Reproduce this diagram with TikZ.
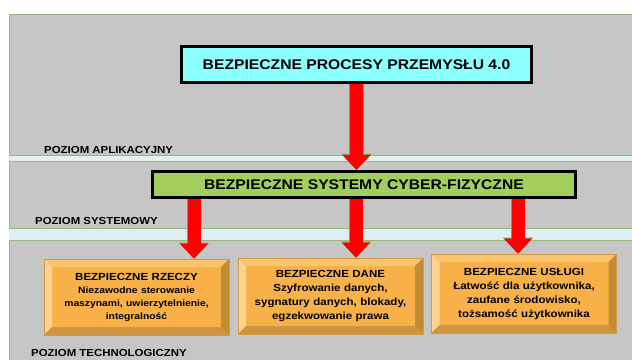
\documentclass[tikz,border=0pt]{standalone}
\usepackage{fontspec}
\setmainfont{Liberation Sans}[FakeStretch=1.12]
\usetikzlibrary{arrows.meta,positioning,calc}

\definecolor{slidegray}{HTML}{C6C6C6}
\definecolor{framegreen}{HTML}{9BB47F}
\definecolor{bandblue}{HTML}{DDEEF4}
\definecolor{bandpale}{HTML}{E4F1EC}
\definecolor{procescyan}{HTML}{8CFFFF}
\definecolor{cpsgreen}{HTML}{A2CF5C}
\definecolor{facegold}{HTML}{F8B148}
\definecolor{bevelleft}{HTML}{FCD391}
\definecolor{beveltop}{HTML}{FAC36E}
\definecolor{bevelright}{HTML}{C48B35}
\definecolor{bevelbottom}{HTML}{CE9540}
\definecolor{beveledge}{HTML}{D39A45}
\definecolor{arrowedge}{HTML}{7DA35A}

\begin{document}
\begin{tikzpicture}[
    x=1pt, y=-1pt,
    every node/.style={font=\bfseries},
    topbox/.style={draw=black, line width=3pt, fill=procescyan, minimum width=350pt, minimum height=36pt, font=\bfseries\fontsize{14}{16}\selectfont},
    cpsbox/.style={draw=black, line width=3pt, fill=cpsgreen, minimum width=423pt, minimum height=26pt, font=\bfseries\fontsize{14}{16}\selectfont},
    thingbox/.style={draw=beveledge, line width=0.6pt, fill=facegold, minimum width=185pt, minimum height=76pt,
        inner sep=0pt, text width=178pt, align=center, font=\bfseries\fontsize{10.3}{14}\selectfont,
        path picture={
            \coordinate (nw) at (path picture bounding box.north west);
            \coordinate (ne) at (path picture bounding box.north east);
            \coordinate (sw) at (path picture bounding box.south west);
            \coordinate (se) at (path picture bounding box.south east);
            \fill[beveltop] (nw) -- (ne) -- ([shift={(-8pt,-8pt)}]ne) -- ([shift={(8pt,-8pt)}]nw) -- cycle;
            \fill[bevelleft] (nw) -- (sw) -- ([shift={(8pt,8pt)}]sw) -- ([shift={(8pt,-8pt)}]nw) -- cycle;
            \fill[bevelright] (ne) -- (se) -- ([shift={(-8pt,8pt)}]se) -- ([shift={(-8pt,-8pt)}]ne) -- cycle;
            \fill[bevelbottom] (sw) -- (se) -- ([shift={(-8pt,8pt)}]se) -- ([shift={(8pt,8pt)}]sw) -- cycle;
        }},
    levellabel/.style={anchor=west, inner sep=0pt, font=\bfseries\fontsize{10.2}{12}\selectfont},
    bigarrow/.style={red, line width=13pt, -{Triangle[width=28pt 0 0, length=15pt 0 0, line width=0pt 0 0]},
        preaction={draw=arrowedge, line width=14.4pt, -{Triangle[width=30.5pt 0 0, length=16.2pt 0 0, line width=0pt 0 0]}}}
]
\useasboundingbox (0,0) rectangle (632,360);

% Slide background
\fill[white] (0,0) rectangle (632,360);
\fill[slidegray] (9,14) rectangle (632,360);
\draw[framegreen, line width=0.8pt] (9,360) -- (9,14) -- (632,14);

% Level separators
\fill[bandpale] (9,155) rectangle (632,161);
\draw[framegreen, line width=0.8pt] (9,155) -- (632,155) (9,161) -- (632,161);
\fill[bandblue] (9,228) rectangle (632,240);
\draw[framegreen, line width=0.8pt] (9,228) -- (632,228) (9,240) -- (632,240);

% Level labels
\node[levellabel] (aplik) at (44,150) {POZIOM APLIKACYJNY};
\node[levellabel] (system) at (35,221) {POZIOM SYSTEMOWY};
\node[levellabel] (techno) at (31,353) {POZIOM TECHNOLOGICZNY};

% Main boxes
\node[topbox] (procesy) at (356.5,64.5) {BEZPIECZNE PROCESY PRZEMYSŁU 4.0};
\node[cpsbox] (cps) at (364,184.5) {BEZPIECZNE SYSTEMY CYBER-FIZYCZNE};

% Technology boxes
\node[thingbox] (rzeczy) at (136.5,297) {BEZPIECZNE RZECZY\\
    {\fontsize{9.2}{13}\selectfont Niezawodne sterowanie\\maszynami, uwierzytelnienie,\\integralność\par}};
\node[thingbox] (dane) at (330.5,296) {BEZPIECZNE DANE\\
    Szyfrowanie danych,\\sygnatury danych, blokady,\\egzekwowanie prawa};
\node[thingbox, minimum height=79pt] (uslugi) at (524,293.5) {BEZPIECZNE USŁUGI\\
    Łatwość dla użytkownika,\\zaufane środowisko,\\tożsamość użytkownika};

% Arrows
\draw[bigarrow] (procesy) -- (procesy |- cps.north);
\draw[bigarrow] ([xshift=-170pt]cps.south) -- ([xshift=-170pt]cps.south |- rzeczy.north);
\draw[bigarrow] ([xshift=-8pt]cps.south) -- ([xshift=-8pt]cps.south |- dane.north);
\draw[bigarrow] ([xshift=154pt]cps.south) -- ([xshift=154pt]cps.south |- uslugi.north);

\end{tikzpicture}
\end{document}
